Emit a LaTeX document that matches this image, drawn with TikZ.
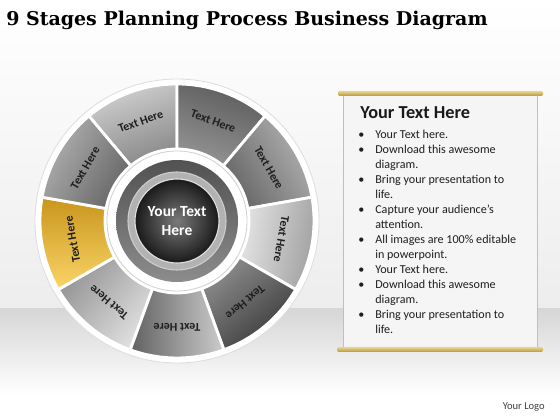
\documentclass[tikz,border=0pt]{standalone}
\usepackage{fontspec}
\setmainfont{Carlito}
\newfontfamily\titlefont{DejaVu Serif}

\definecolor{yelA}{HTML}{C9951C}
\definecolor{yelB}{HTML}{FAD568}
\definecolor{goldA}{HTML}{EAD693}
\definecolor{goldB}{HTML}{B8983A}

\tikzset{
  seglabel/.style={font=\bfseries\fontsize{8.5}{9}\selectfont, text=black!88, inner sep=0pt},
  listtext/.style={font=\fontsize{8.6}{10.7}\selectfont, text=black!88, inner sep=0pt, anchor=base west, align=left},
  goldbar/.style={top color=goldA, bottom color=goldB, rounded corners=1pt}
}

\begin{document}
\begin{tikzpicture}[x=0.025cm,y=0.025cm]

  % background and floor
  \useasboundingbox (0,0) rectangle (560,420);
  \shade[top color=white, bottom color=black!7] (0,111) rectangle (560,420);
  \shade[top color=black!16, bottom color=white] (0,25) rectangle (560,111);
  \fill[white] (0,0) rectangle (560,25);

  \node[anchor=base west, inner sep=0pt, font=\titlefont\bfseries\fontsize{13.5}{15}\selectfont] (title) at (6,394) {9 Stages Planning Process Business Diagram};

  % the wheel
  \begin{scope}[shift={(177,199)}]
    \draw[fill=white, draw=black!13, line width=0.6pt] (0,0) circle[radius=142];

    \foreach \a/\ct/\cb/\sa [count=\k] in {90/black!18/black!47/20, 50/black!64/black!42/-20,
        10/black!30/black!60/-60, -30/black!38/black!10/-100, -70/black!78/black!45/-140,
        -110/black!20/black!62/-90, -150/black!12/black!42/-130, 170/yelA/yelB/0,
        130/black!30/black!60/60}
    {
      \path[top color=\ct, bottom color=\cb, shading angle=\sa, draw=white, line width=2pt]
        (\a:72) -- (\a:137) arc[start angle=\a, end angle=\a+40, radius=137]
        -- (\a+40:72) arc[start angle=\a+40, end angle=\a, radius=72] -- cycle;
      \node[seglabel, rotate=\a+20-90] (t\k) at (\a+20:106) {Text Here};
    }

    \draw[fill=white, draw=black!18, line width=0.6pt] (0,0) circle[radius=70];
    \shade[top color=black!68, bottom color=black!45] (0,0) circle[radius=61];
    \draw[fill=black!30, draw=black!20, line width=0.8pt] (0,0) circle[radius=49];
    \shade[inner color=black!52, outer color=black!90, draw=black!12, line width=0.8pt] (0,0) circle[radius=42];
    \node[font=\bfseries\fontsize{11}{13.5}\selectfont, text=white, align=center] (ctr) at (0,0) {Your Text\\Here};
  \end{scope}

  % text panel
  \draw[fill=black!4, draw=black!25, line width=0.6pt] (343,325) rectangle (537,72);
  \shade[goldbar] (338,329) rectangle (543,324);
  \shade[goldbar] (337,73) rectangle (543,68);

  \node[anchor=base west, inner sep=0pt, font=\bfseries\fontsize{13}{15}\selectfont, text=black!90] (head) at (360,301) {Your Text Here};

  % first line of each point, last line of each point
  \foreach \i/\j/\txt [count=\k] in {0/0/{Your Text here.}, 1/2/{Download this awesome\\diagram.},
      3/4/{Bring your presentation to\\life.}, 5/6/{Capture your audience’s\\attention.},
      7/8/{All images are 100\% editable\\in powerpoint.}, 9/9/{Your Text here.},
      10/11/{Download this awesome\\diagram.}, 12/13/{Bring your presentation to\\life.}}
  {
    \node[listtext] (b\k) at (358,281-15*\i) {\textbullet};
    \node[listtext] (l\k) at (375,281-15*\j) {\txt};
  }

  \node[anchor=base east, inner sep=0pt, font=\fontsize{7.5}{8}\selectfont, text=black!75] (logo) at (545,10) {Your Logo};

\end{tikzpicture}
\end{document}
